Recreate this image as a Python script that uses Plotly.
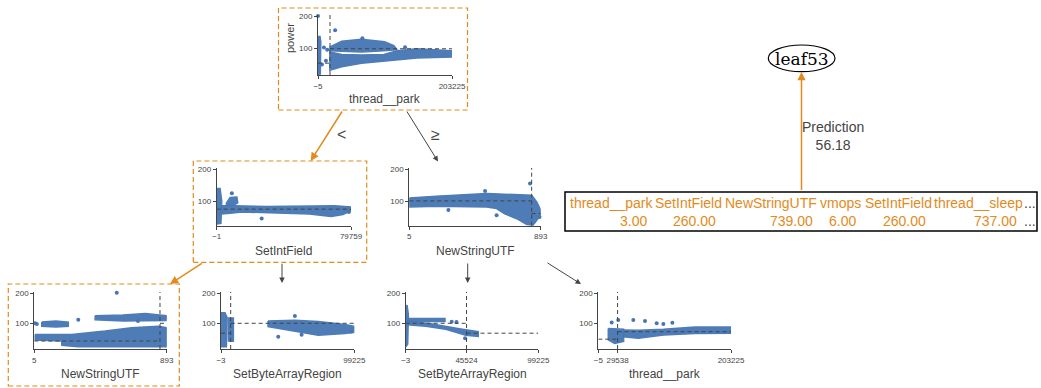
import plotly.graph_objects as go

W, H = 1041, 388
BLUE = "#4575b4"
ORANGE = "#e38a1c"
DARK = "#444443"
FONT = "Liberation Sans, Arial, sans-serif"

# ------------------------------------------------------------------ data
# node 0 (root): thread__park
P0_FEATURE = "thread__park"
P0_XRANGE = [-5, 203225]
P0_SPLIT = 18200
P0_MEANS = [52.5, 98]
P0_CLOUDS = [
    ([0, 3500, 4200, 3000, 0], [17, 18, 120, 137, 137]),
    ([18000, 36000, 66000, 101000, 115000, 120000, 100000, 66000, 36000, 18000],
     [104, 122, 128, 120, 108, 95, 92, 88, 90, 92]),
    ([18000, 36000, 66000, 100000, 120000, 150000, 203225, 203225, 150000, 101000, 66000, 36000, 22000, 18000],
     [88, 80, 78, 80, 92, 98, 92, 72, 69, 59, 52, 41, 32, 30]),
]
P0_PTS_X = [0, 26000, 67300, 132000, 9000, 12000, 6000, 14000]
P0_PTS_Y = [202, 157, 131, 103, 102, 60, 48, 95]
P0_INSTANCE = 3.00

# node 1: SetIntField
P1_FEATURE = "SetIntField"
P1_XRANGE = [-1, 79759]
P1_MEANS = [75]
P1_CLOUDS = [
    ([0, 2500, 3000, 2000, 0], [28, 30, 100, 140, 140]),
    ([5500, 8000, 12000, 12500, 10000, 6000], [92, 112, 113, 95, 87, 87]),
    ([3000, 10000, 30000, 55000, 70000, 79759, 79759, 75000, 68000, 55000, 30000, 15000, 8000, 3000],
     [86, 86, 83, 84, 86, 82, 70, 58, 52, 60, 64, 66, 62, 60]),
]
P1_PTS_X = [26700, 78500, 9000]
P1_PTS_Y = [46, 66, 125]
P1_INSTANCE = 260.00

# node 2: NewStringUTF
P2_FEATURE = "NewStringUTF"
P2_XRANGE = [5, 893]
P2_SPLIT = 832
P2_MEANS = [101, 61]
P2_CLOUDS = [
    ([5, 190, 528, 753, 832, 866, 893, 893, 866, 840, 799, 731, 650, 595, 528, 190, 5],
     [110, 116, 124, 121, 119, 98, 72, 56, 40, 24, 27, 45, 60, 77, 82, 84, 82]),
]
P2_PTS_X = [517, 269, 595, 821, 885]
P2_PTS_Y = [132, 72, 56, 156, 50]

# node 3: NewStringUTF (path)
P3_FEATURE = "NewStringUTF"
P3_XRANGE = [5, 893]
P3_SPLIT = 848
P3_MEANS = [41, 100]
P3_CLOUDS = [
    ([55, 150, 233, 233, 150, 55], [104, 108, 104, 90, 88, 90]),
    ([10, 256, 480, 658, 837, 893, 893, 480, 300, 190, 188, 10],
     [63, 63, 74, 85, 90, 85, 22, 22, 22, 27, 41, 44]),
    ([413, 600, 750, 893, 893, 600, 413], [125, 128, 133, 125, 109, 108, 112]),
]
P3_PTS_X = [558, 10, 22, 300, 700]
P3_PTS_Y = [202, 100, 98, 112, 108]
P3_INSTANCE = 739.00

# node 4: SetByteArrayRegion
P4_FEATURE = "SetByteArrayRegion"
P4_XRANGE = [-3, 99225]
P4_SPLIT = 7200
P4_MEANS = [67, 100]
P4_CLOUDS = [
    ([0, 4000, 4500, 3000, 0], [22, 22, 120, 135, 135]),
    ([5500, 9200, 9200, 5500], [40, 40, 118, 118]),
    ([35000, 55000, 72400, 92300, 99225, 99225, 92300, 72400, 47600, 35000],
     [108, 110, 106, 96, 90, 70, 66, 60, 79, 89]),
]
P4_PTS_X = [55000, 42600, 97000, 60000]
P4_PTS_Y = [124, 55, 73, 62]

# node 5: SetByteArrayRegion
P5_FEATURE = "SetByteArrayRegion"
P5_XRANGE = [-3, 99225]
P5_SPLIT = 45524
P5_MEANS = [100, 67]
P5_CLOUDS = [
    ([0, 1500, 2000, 1000, 0], [22, 30, 130, 161, 150]),
    ([1500, 29400, 29400, 1500], [116, 116, 106, 106]),
    ([1500, 20000, 40000, 54300, 54300, 45000, 30000, 15000, 1500],
     [108, 98, 82, 72, 56, 60, 80, 90, 95]),
]
P5_PTS_X = [34400, 44400, 38000]
P5_PTS_Y = [105, 50, 104]

# node 6: thread__park
P6_FEATURE = "thread__park"
P6_XRANGE = [-5, 203225]
P6_SPLIT = 29538
P6_MEANS = [47, 72]
P6_CLOUDS = [
    ([15300, 38800, 38800, 25000, 15300], [83, 80, 40, 33, 45]),
    ([38800, 61200, 100000, 148000, 203225, 203225, 148000, 100000, 61200, 38800],
     [78, 77, 80, 88, 88, 67, 66, 61, 50, 55]),
]
P6_PTS_X = [20500, 30600, 53600, 71500, 89400, 99600, 113400]
P6_PTS_Y = [103, 111, 111, 108, 100, 98, 102]

# instance table
TABLE_FEATURES = ["thread__park", "SetIntField", "NewStringUTF", "vmops", "SetIntField", "thread__sleep"]
TABLE_VALUES = [3.00, 260.00, 739.00, 6.00, 260.00, 737.00]
PREDICTION = 56.18
LEAF_NAME = "leaf53"
Y_MAX = 205

# ------------------------------------------------------------------ layout geometry (pixels)
def px(x):
    return x / W


def py(y):
    return 1 - y / H


GEOM = [
    dict(left=318, right=452, bottom=75, scale=0.316, ylo=15),
    dict(left=216.7, right=351, bottom=225.7, scale=0.318, ylo=23),
    dict(left=409.3, right=540.7, bottom=225.7, scale=0.318, ylo=23),
    dict(left=34.3, right=166.7, bottom=349, scale=0.300, ylo=14.3),
    dict(left=221, right=354.3, bottom=349, scale=0.300, ylo=14.3),
    dict(left=405.7, right=538.3, bottom=349, scale=0.300, ylo=14.3),
    dict(left=598.3, right=731, bottom=349, scale=0.300, ylo=14.3),
]

NODES = [
    dict(feat=P0_FEATURE, xr=P0_XRANGE, split=P0_SPLIT, means=P0_MEANS, clouds=P0_CLOUDS,
         px_=P0_PTS_X, py_=P0_PTS_Y, inst=P0_INSTANCE, xticks=P0_XRANGE),
    dict(feat=P1_FEATURE, xr=P1_XRANGE, split=None, means=P1_MEANS, clouds=P1_CLOUDS,
         px_=P1_PTS_X, py_=P1_PTS_Y, inst=P1_INSTANCE, xticks=P1_XRANGE),
    dict(feat=P2_FEATURE, xr=P2_XRANGE, split=P2_SPLIT, means=P2_MEANS, clouds=P2_CLOUDS,
         px_=P2_PTS_X, py_=P2_PTS_Y, inst=None, xticks=P2_XRANGE),
    dict(feat=P3_FEATURE, xr=P3_XRANGE, split=P3_SPLIT, means=P3_MEANS, clouds=P3_CLOUDS,
         px_=P3_PTS_X, py_=P3_PTS_Y, inst=P3_INSTANCE, xticks=P3_XRANGE),
    dict(feat=P4_FEATURE, xr=P4_XRANGE, split=P4_SPLIT, means=P4_MEANS, clouds=P4_CLOUDS,
         px_=P4_PTS_X, py_=P4_PTS_Y, inst=None, xticks=P4_XRANGE),
    dict(feat=P5_FEATURE, xr=P5_XRANGE, split=P5_SPLIT, means=P5_MEANS, clouds=P5_CLOUDS,
         px_=P5_PTS_X, py_=P5_PTS_Y, inst=None, xticks=[P5_XRANGE[0], P5_SPLIT, P5_XRANGE[1]]),
    dict(feat=P6_FEATURE, xr=P6_XRANGE, split=P6_SPLIT, means=P6_MEANS, clouds=P6_CLOUDS,
         px_=P6_PTS_X, py_=P6_PTS_Y, inst=None, xticks=[P6_XRANGE[0], P6_SPLIT, P6_XRANGE[1]]),
]


def fmt_tick(v):
    s = str(int(v))
    return s.replace("-", "\u2212")


fig = go.Figure()
layout_axes = {}
annotations = []
shapes = []


def text_at(x, y, text, size, color=DARK, family=FONT, xanchor="center", **kw):
    annotations.append(dict(x=px(x), y=py(y), xref="paper", yref="paper", text=text, showarrow=False,
                            xanchor=xanchor, yanchor="middle", font=dict(size=size, color=color, family=family),
                            **kw))


for i, (node, g) in enumerate(zip(NODES, GEOM)):
    n = "" if i == 0 else str(i + 1)
    xa, ya = "x" + n, "y" + n
    ylo = g["ylo"]
    top = g["bottom"] - (Y_MAX - ylo) * g["scale"]
    layout_axes["xaxis" + n] = dict(
        domain=[px(g["left"]), px(g["right"])], range=node["xr"], anchor=ya, automargin=False,
        showline=True, linecolor=DARK, linewidth=1, ticks="outside", ticklen=3,
        tickcolor=DARK, tickwidth=1, tickvals=node["xticks"],
        ticktext=[fmt_tick(v) for v in node["xticks"]],
        tickfont=dict(size=8, color=DARK, family=FONT), showgrid=False, zeroline=False,
        fixedrange=True)
    layout_axes["yaxis" + n] = dict(
        domain=[py(g["bottom"]), py(top)], range=[ylo, Y_MAX], anchor=xa, automargin=False,
        showline=True, linecolor=DARK, linewidth=1, ticks="outside", ticklen=3,
        tickcolor=DARK, tickwidth=1, tickvals=[100, 200],
        tickfont=dict(size=8, color=DARK, family=FONT), showgrid=False, zeroline=False,
        fixedrange=True)

    for cx, cy in node["clouds"]:
        fig.add_trace(go.Scatter(x=cx + [cx[0]], y=cy + [cy[0]], xaxis=xa, yaxis=ya, mode="lines",
                                 fill="toself", fillcolor=BLUE, line=dict(color=BLUE, width=1.5),
                                 opacity=0.95, hoverinfo="skip"))
    fig.add_trace(go.Scatter(x=node["px_"], y=node["py_"], xaxis=xa, yaxis=ya, mode="markers",
                             marker=dict(color=BLUE, size=4), cliponaxis=False))

    x0, x1 = node["xr"]
    dash = dict(color=DARK, width=1, dash="4px,3px")
    if node["split"] is not None:
        s = node["split"]
        fig.add_trace(go.Scatter(x=[s, s], y=[ylo, Y_MAX], xaxis=xa, yaxis=ya, mode="lines", line=dash))
        fig.add_trace(go.Scatter(x=[x0, s], y=[node["means"][0]] * 2, xaxis=xa, yaxis=ya,
                                 mode="lines", line=dash))
        fig.add_trace(go.Scatter(x=[s, x1], y=[node["means"][1]] * 2, xaxis=xa, yaxis=ya,
                                 mode="lines", line=dash))
        fig.add_trace(go.Scatter(x=[s], y=[ylo - 3.5 / g["scale"]], xaxis=xa, yaxis=ya, mode="markers",
                                 marker=dict(symbol="triangle-up", size=8, color=DARK), cliponaxis=False))
    else:
        fig.add_trace(go.Scatter(x=[x0, x1], y=[node["means"][0]] * 2, xaxis=xa, yaxis=ya,
                                 mode="lines", line=dash))
    if node["inst"] is not None:
        fig.add_trace(go.Scatter(x=[node["inst"]], y=[ylo - 3.5 / g["scale"]], xaxis=xa, yaxis=ya,
                                 mode="markers", marker=dict(symbol="triangle-up", size=8, color=ORANGE),
                                 cliponaxis=False))

    lab_y = g["bottom"] + 25 if i else 99
    text_at((g["left"] + g["right"]) / 2, lab_y, node["feat"], 12)

text_at(290, 38, "power", 11, textangle=-90)

# highlighted boxes
for (l, t, r, b) in [(278.5, 8, 467.5, 110), (193.3, 161, 366.7, 262.3), (8.3, 284, 179.3, 386)]:
    shapes.append(dict(type="rect", xref="paper", yref="paper", x0=px(l), x1=px(r), y0=py(b), y1=py(t),
                       line=dict(color=ORANGE, width=1.2, dash="5px,3px")))


def arrow(tail, head, color, width):
    annotations.append(dict(x=px(head[0]), y=py(head[1]), xref="paper", yref="paper",
                            ax=tail[0] - head[0], ay=tail[1] - head[1], axref="pixel", ayref="pixel",
                            showarrow=True, arrowhead=2, arrowsize=1.1, arrowwidth=width,
                            arrowcolor=color, text=""))


arrow((343, 110), (310.7, 161), ORANGE, 1.5)
arrow((406, 110), (438, 161.5), DARK, 1)
arrow((203.3, 262.3), (170, 284), ORANGE, 1.5)
arrow((282, 262.3), (282, 283), DARK, 1)
arrow((467.7, 262), (467.7, 283), DARK, 1)
arrow((546, 262), (581, 284), DARK, 1)
arrow((801.5, 191.5), (801.5, 72), ORANGE, 1.5)

text_at(341, 134, "<", 16)
text_at(435, 134, "\u2265", 16)

# leaf
shapes.append(dict(type="circle", xref="paper", yref="paper", x0=px(768.3), x1=px(835), y0=py(71.7),
                   y1=py(45), line=dict(color="black", width=1.2)))
text_at(801.7, 58.5, LEAF_NAME, 17, color="black", family="DejaVu Serif, serif")
text_at(833, 135.5, "Prediction<br>%.2f" % PREDICTION, 14, align="center")

# instance table
shapes.append(dict(type="rect", xref="paper", yref="paper", x0=px(565), x1=px(1037), y0=py(231),
                   y1=py(192), line=dict(color="black", width=1.5)))
COL_LEFT = [568, 653, 723, 818, 863, 932]
COL_RIGHT = [649, 718, 815, 858, 928, 1019]
for name, val, l, r in zip(TABLE_FEATURES, TABLE_VALUES, COL_LEFT, COL_RIGHT):
    text_at(l, 202.5, name, 14, color=ORANGE, xanchor="left")
    text_at(r, 220.5, "%.2f" % val, 14, color=ORANGE, xanchor="right")
for yy in (202.5, 220.5):
    text_at(1022, yy, "...", 14, xanchor="left")

fig.update_layout(
    template="none",
    width=W, height=H, autosize=False, margin=dict(l=0, r=0, t=0, b=0, pad=0),
    paper_bgcolor="white", plot_bgcolor="rgba(0,0,0,0)", showlegend=False,
    annotations=annotations, shapes=shapes, **layout_axes)

fig.write_html("out.html")
